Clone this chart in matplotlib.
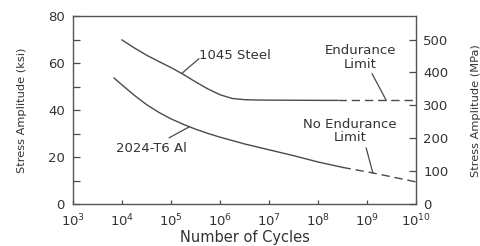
import matplotlib
matplotlib.use("Agg")
import matplotlib.pyplot as plt
from matplotlib.ticker import MultipleLocator, NullFormatter, NullLocator

plt.rcParams['font.family'] = ['DejaVu Sans']
plt.rcParams['mathtext.fontset'] = 'dejavusans'

# Data -- cycles given as log10(N)
steel_logN = [4.0, 4.25, 4.5, 4.75, 5.0, 5.25, 5.5, 5.75, 6.0, 6.25, 6.5, 6.75, 7.0, 8.0, 8.4]
steel_S = [70.0, 66.6, 63.5, 60.8, 58.2, 55.3, 52.1, 49.1, 46.6, 45.0, 44.5, 44.35, 44.3, 44.2, 44.2]
steel_dash_logN = [8.4, 10.0]
steel_dash_S = [44.2, 44.2]

al_logN = [3.84, 4.0, 4.25, 4.5, 4.75, 5.0, 5.25, 5.5, 5.75, 6.0, 6.5, 7.0, 7.5, 8.0, 8.5]
al_S = [53.7, 50.8, 46.4, 42.4, 39.1, 36.3, 34.0, 31.9, 30.1, 28.5, 25.6, 23.1, 20.6, 17.9, 15.6]
al_dash_logN = [8.5, 9.1, 10.0]
al_dash_S = [15.6, 13.3, 9.4]

x_ticks_exp = [3, 4, 5, 6, 7, 8, 9, 10]
ksi_ticks = [0, 20, 40, 60, 80]
mpa_ticks = [0, 100, 200, 300, 400, 500]

line_c = '#4a4a4a'
text_c = '#333333'
fs = 9.5

fig = plt.figure(figsize=(4.8, 2.46), dpi=100)
ax = fig.add_axes([0.152, 0.171, 0.715, 0.762])

ax.plot([10 ** v for v in steel_logN], steel_S, color=line_c, lw=1.0)
ax.plot([10 ** v for v in steel_dash_logN], steel_dash_S, color=line_c, lw=1.0, dashes=(6, 3.5))
ax.plot([10 ** v for v in al_logN], al_S, color=line_c, lw=1.0)
ax.plot([10 ** v for v in al_dash_logN], al_dash_S, color=line_c, lw=1.0, dashes=(6, 3.5))

ax.set_xscale('log')
ax.set_xlim(1e3, 1e10)
ax.set_ylim(0, 80)
ax.set_xticks([10.0 ** e for e in x_ticks_exp])
ax.set_xticklabels([r'$10^{%d}$' % e for e in x_ticks_exp])
ax.xaxis.set_minor_locator(NullLocator())
ax.set_yticks(ksi_ticks)
ax.yaxis.set_minor_locator(MultipleLocator(10))
ax.yaxis.set_minor_formatter(NullFormatter())

ax.tick_params(axis='y', which='both', direction='in', length=5, width=0.9,
               color=line_c, labelcolor=text_c, labelsize=fs, pad=6)
ax.tick_params(axis='x', which='major', direction='in', length=3, width=0.9,
               color=line_c, labelcolor=text_c, labelsize=fs, pad=6)
for s in ax.spines.values():
    s.set_color('#555555')
    s.set_linewidth(1.0)

ax.set_xlabel('Number of Cycles', fontsize=10.5, color=text_c, labelpad=1)
ax.set_ylabel('Stress Amplitude (ksi)', fontsize=8.2, color=text_c, labelpad=15)

ax2 = ax.twinx()
ax2.set_ylim(0, 570)
ax2.set_yticks(mpa_ticks)
ax2.tick_params(axis='y', direction='in', length=5, width=0.9, color=line_c,
                labelcolor=text_c, labelsize=fs, pad=5)
for s in ax2.spines.values():
    s.set_visible(False)
ax2.set_ylabel('Stress Amplitude (MPa)', fontsize=8.2, color=text_c, labelpad=16)

arrow = dict(arrowstyle='-', color=line_c, lw=0.9, shrinkA=0, shrinkB=0)

ax.text(10 ** 5.57, 63.2, '1045 Steel', fontsize=fs, color=text_c, ha='left', va='center')
ax.annotate('', xy=(10 ** 5.22, 55.7), xytext=(10 ** 5.57, 62.0), arrowprops=arrow)

ax.text(10 ** 4.60, 23.5, '2024-T6 Al', fontsize=fs, color=text_c, ha='center', va='center')
ax.annotate('', xy=(10 ** 5.38, 33.0), xytext=(10 ** 4.96, 28.2), arrowprops=arrow)

ax.text(10 ** 8.86, 62.4, 'Endurance\nLimit', fontsize=fs, color=text_c, ha='center',
        va='center', linespacing=1.05)
ax.annotate('', xy=(10 ** 9.39, 44.2), xytext=(10 ** 9.10, 55.6), arrowprops=arrow)

ax.text(10 ** 8.65, 31.2, 'No Endurance\nLimit', fontsize=fs, color=text_c, ha='center',
        va='center', linespacing=1.05)
ax.annotate('', xy=(10 ** 9.12, 13.0), xytext=(10 ** 8.98, 23.9), arrowprops=arrow)

fig.savefig('out.png', dpi=100)
